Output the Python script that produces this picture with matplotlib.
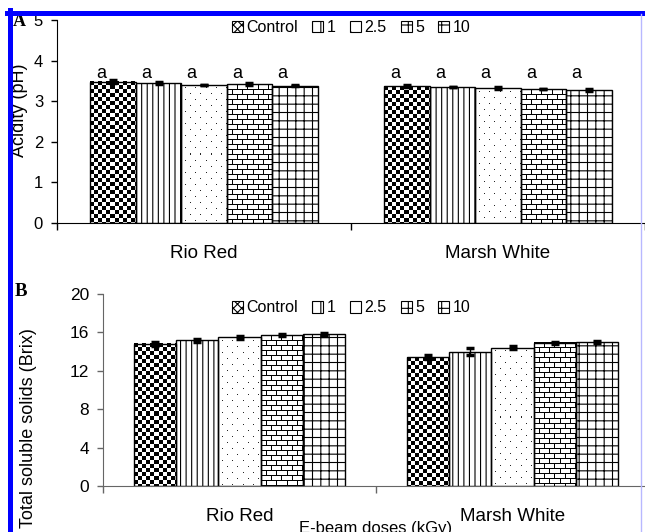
import numpy as np
import matplotlib
matplotlib.use('Agg')
import matplotlib.pyplot as plt
from matplotlib.patches import Patch
from matplotlib.lines import Line2D

plt.rcParams['font.family'] = ['Liberation Sans', 'DejaVu Sans']
plt.rcParams['hatch.linewidth'] = 0.8

cultivars = ['Rio Red', 'Marsh White']
doses = ['Control', '1', '2.5', '5', '10']

# panel A: acidity (pH), one value per dose
ph_rio = [3.48, 3.45, 3.41, 3.42, 3.38]
ph_marsh = [3.37, 3.35, 3.32, 3.30, 3.28]
ph_rio_err = [0.03, 0.02, 0.0, 0.03, 0.01]
ph_marsh_err = [0.03, 0.01, 0.02, 0.0, 0.02]
ph_letters = ['a', 'a', 'a', 'a', 'a']

# panel B: total soluble solids (Brix)
tss_rio = [14.8, 15.2, 15.5, 15.7, 15.8]
tss_marsh = [13.4, 14.0, 14.4, 14.9, 15.0]
tss_rio_err = [0.2, 0.15, 0.15, 0.1, 0.15]
tss_marsh_err = [0.2, 0.35, 0.15, 0.1, 0.15]

# fill style per dose: image pattern or matplotlib hatch
fills = ['checker', '|||', 'dots', 'brick', '++']
legend_hatch = ['xxxx', '||', '.', '-|', '+']
image_fills = ('checker', 'dots', 'brick')

W, H = 645, 532
fig = plt.figure(figsize=(W / 100, H / 100), dpi=100)


def tile(kind, h, w):
    i, j = np.mgrid[0:h, 0:w]
    if kind == 'checker':
        return ((i // 4 + j // 4) % 2).astype(float)
    if kind == 'dots':
        row = i // 6
        dot = (i % 6 == 3) & ((j + (row % 2) * 5) % 10 == 4)
        return np.where(dot, 0.15, 1.0)
    row = i // 5
    line = (i % 5 == 0) | ((j + (row % 2) * 5) % 10 == 0)
    return np.where(line, 0.0, 1.0)


def pattern_fill(ax, bars, kind):
    for b in bars:
        x0, y0 = b.get_x(), b.get_y()
        x1, y1 = x0 + b.get_width(), y0 + b.get_height()
        (px0, py0), (px1, py1) = ax.transData.transform([(x0, y0), (x1, y1)])
        w = max(int(round(px1 - px0)), 1)
        h = max(int(round(py1 - py0)), 1)
        ax.imshow(tile(kind, h, w), cmap='gray', vmin=0, vmax=1,
                  extent=(x0, x1, y0, y1), aspect='auto',
                  interpolation='nearest', zorder=1)


def panel(rect, rio, marsh, rio_err, marsh_err, ymax, ystep, spine_col, tick_fs):
    ax = fig.add_axes(rect)
    ax.set_xlim(0, 2)
    ax.set_ylim(0, ymax)
    centers = np.array([0.5, 1.5])
    bw = 0.1545
    for k in range(len(doses)):
        x = centers + (k - 2) * bw
        vals = [rio[k], marsh[k]]
        errs = [rio_err[k], marsh_err[k]]
        kind = fills[k]
        hatch = None if kind in image_fills else kind
        bars = ax.bar(x, vals, bw, facecolor='none', edgecolor='black',
                      linewidth=1.0, hatch=hatch, zorder=2)
        if hatch is None:
            pattern_fill(ax, bars, kind)
        ax.errorbar(x, vals, yerr=errs, fmt='none', ecolor='black',
                    elinewidth=1, capsize=3, capthick=2.5, zorder=3)
    ax.set_xlim(0, 2)
    ax.set_ylim(0, ymax)
    for s in ['top', 'right']:
        ax.spines[s].set_visible(False)
    for s in ['left', 'bottom']:
        ax.spines[s].set_color(spine_col)
    ax.set_yticks(np.arange(0, ymax + 0.1, ystep))
    ax.tick_params(axis='y', direction='out', length=4, width=1,
                   color=spine_col, labelsize=tick_fs, pad=6)
    ax.set_xticks([0, 1, 2])
    ax.set_xticklabels([])
    ax.set_xticks(centers, minor=True)
    ax.set_xticklabels(cultivars, minor=True)
    ax.tick_params(axis='x', which='major', direction='out', length=5,
                   width=1, color=spine_col)
    ax.tick_params(axis='x', which='minor', length=0, labelsize=13.5, pad=16)
    return ax, centers, bw


# panel A
axA, centers, bw = panel([57 / W, 1 - 223 / H, 588 / W, 203 / H],
                         ph_rio, ph_marsh, ph_rio_err, ph_marsh_err,
                         5, 1, 'black', 12)
for k in range(len(doses)):
    for c, v in zip(centers, [ph_rio[k], ph_marsh[k]]):
        axA.text(c + (k - 2) * bw - 0.27 * bw, 3.57, ph_letters[k],
                 fontsize=13, ha='center', va='baseline')
axA.set_ylabel('Acidity (pH)', fontsize=13, va='center')
axA.yaxis.set_label_coords(-0.064, 0.557)

# panel B
axB, centers, bw = panel([103 / W, 1 - 486 / H, 546 / W, 192 / H],
                         tss_rio, tss_marsh, tss_rio_err, tss_marsh_err,
                         20, 4, '#666666', 12.5)
axB.set_ylabel('Total soluble solids (Brix)', fontsize=13, va='center')
axB.yaxis.set_label_coords(-0.136, 0.30)
axB.set_xlabel('E-beam doses (kGy)', fontsize=12, va='top')
axB.xaxis.set_label_coords(0.5, -0.182)

handles = [Patch(facecolor='white', edgecolor='black', hatch=h, linewidth=0.8)
           for h in legend_hatch]
for ax, yc in [(axA, 28), (axB, 308)]:
    ax.legend(handles, doses, loc='center', ncol=5, frameon=False,
              fontsize=11.5, handlelength=0.7, handleheight=0.7,
              handletextpad=0.2, columnspacing=0.9,
              bbox_to_anchor=(351 / W, 1 - yc / H),
              bbox_transform=fig.transFigure)

fig.text(19 / W, 1 - 22 / H, 'A', family='Liberation Serif',
         fontweight='bold', fontsize=13, ha='center', va='center')
fig.text(21 / W, 1 - 291 / H, 'B', family='Liberation Serif',
         fontweight='bold', fontsize=13.5, ha='center', va='center')

# blue selection frame around the figure
blue = '#0000ff'
fig.add_artist(Line2D([7 / W, 1], [1 - 12.5 / H] * 2, color=blue, lw=3.6,
                      transform=fig.transFigure, zorder=10))
fig.add_artist(Line2D([9.5 / W] * 2, [0, 1 - 10 / H], color=blue, lw=3.6,
                      transform=fig.transFigure, zorder=10))
fig.add_artist(Line2D([641 / W] * 2, [0, 1 - 14 / H], color='#b8b8ff', lw=1,
                      transform=fig.transFigure, zorder=10))

fig.savefig('out.png', dpi=100)
